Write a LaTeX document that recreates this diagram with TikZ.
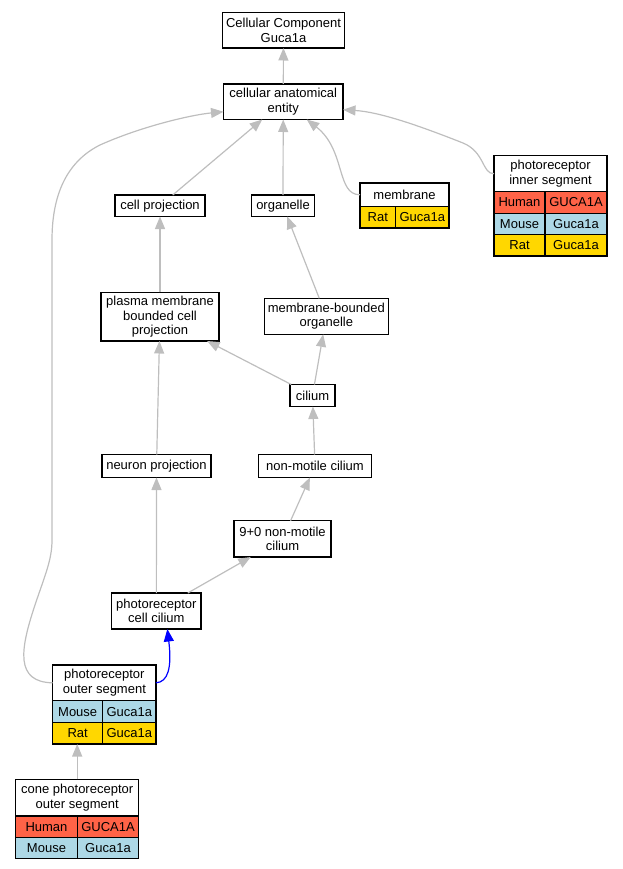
\documentclass[tikz,border=0pt]{standalone}
\usepackage{fontspec}
\setmainfont{Liberation Sans}
\usetikzlibrary{arrows.meta,calc}
\definecolor{edgegray}{RGB}{190,190,190}
\definecolor{humanred}{RGB}{255,99,71}
\definecolor{mouseblue}{RGB}{173,216,230}
\definecolor{ratgold}{RGB}{255,215,0}
\newcommand\lblfont{\fontsize{13}{14.5}\selectfont}
\begin{document}
\begin{tikzpicture}[x=1pt,y=-1pt,
  box/.style={draw=black, line width=1.2pt, fill=white, inner sep=0pt, outer sep=0pt,
    align=center, font=\lblfont, anchor=north west},
  human/.style={box, fill=humanred},
  mouse/.style={box, fill=mouseblue},
  rat/.style={box, fill=ratgold},
  edge/.style={draw=edgegray, line width=1.2pt, -{Triangle[length=12.5pt,width=10pt]}},
  bluedge/.style={draw=blue, line width=1.2pt, -{Triangle[length=12.5pt,width=10pt]}}]
\useasboundingbox (0,0) rectangle (623,869);

% plain boxes
\node[box, minimum width=122pt, minimum height=35.5pt] (cc) at (222.5,12.5) {Cellular Component\\Guca1a};
\node[box, minimum width=119.5pt, minimum height=35.5pt] (cae) at (223.5,84) {cellular anatomical\\entity};
\node[box, minimum width=90pt, minimum height=21.5pt] (cp) at (115,195) {cell projection};
\node[box, minimum width=63pt, minimum height=21.5pt] (org) at (251.5,195) {organelle};
\node[box, minimum width=118pt, minimum height=48.7pt] (pmbcp) at (101,292.3) {plasma membrane\\bounded cell\\projection};
\node[box, minimum width=124pt, minimum height=36pt] (mbo) at (264.3,298.3) {membrane-bounded\\organelle};
\node[box, minimum width=45pt, minimum height=22pt] (cil) at (290,384.5) {cilium};
\node[box, minimum width=109pt, minimum height=23pt] (np) at (102,454.5) {neuron projection};
\node[box, minimum width=113.4pt, minimum height=23pt] (nmc) at (258.3,454.5) {non-motile cilium};
\node[box, minimum width=97pt, minimum height=36.3pt] (nine) at (234,520.7) {9+0 non-motile\\cilium};
\node[box, minimum width=89.3pt, minimum height=36pt] (pcc) at (111.7,593) {photoreceptor\\cell cilium};

% membrane table
\node[box, minimum width=89pt, minimum height=23.5pt] (memh) at (360,183) {membrane};
\node[rat, minimum width=35.7pt, minimum height=21.5pt] (memr) at (360,206.5) {Rat};
\node[rat, minimum width=53.3pt, minimum height=21.5pt] (memg) at (395.7,206.5) {Guca1a};

% photoreceptor inner segment table
\node[box, minimum width=113pt, minimum height=36pt] (pish) at (494,155.7) {photoreceptor\\inner segment};
\node[human, minimum width=51pt, minimum height=21.4pt] (pishu) at (494,191.7) {Human};
\node[human, minimum width=62pt, minimum height=21.4pt] (pishug) at (545,191.7) {GUCA1A};
\node[mouse, minimum width=51pt, minimum height=21.4pt] (pismo) at (494,213.1) {Mouse};
\node[mouse, minimum width=62pt, minimum height=21.4pt] (pismog) at (545,213.1) {Guca1a};
\node[rat, minimum width=51pt, minimum height=21.4pt] (pisra) at (494,234.5) {Rat};
\node[rat, minimum width=62pt, minimum height=21.4pt] (pisrag) at (545,234.5) {Guca1a};

% photoreceptor outer segment table
\node[box, minimum width=103.3pt, minimum height=35.7pt] (posh) at (52.7,665) {photoreceptor\\outer segment};
\node[mouse, minimum width=50pt, minimum height=22pt] (posmo) at (52.7,700.7) {Mouse};
\node[mouse, minimum width=53.3pt, minimum height=22pt] (posmog) at (102.7,700.7) {Guca1a};
\node[rat, minimum width=50pt, minimum height=21.3pt] (posra) at (52.7,722.7) {Rat};
\node[rat, minimum width=53.3pt, minimum height=21.3pt] (posrag) at (102.7,722.7) {Guca1a};

% cone photoreceptor outer segment table
\node[box, minimum width=123pt, minimum height=36.7pt] (coneh) at (15.7,779.3) {cone photoreceptor\\outer segment};
\node[human, minimum width=61.6pt, minimum height=21.3pt] (conehu) at (15.7,816) {Human};
\node[human, minimum width=61.4pt, minimum height=21.3pt] (conehug) at (77.3,816) {GUCA1A};
\node[mouse, minimum width=61.6pt, minimum height=21.4pt] (conemo) at (15.7,837.3) {Mouse};
\node[mouse, minimum width=61.4pt, minimum height=21.4pt] (conemog) at (77.3,837.3) {Guca1a};

% edges
\draw[edge] (cae) -- (cc);
\draw[edge] (cp) -- (cae);
\draw[edge] (org) -- (cae);
\draw[edge] (memh.west) .. controls (336,195) and (346,150) .. ($(cae.south)+(23.5,0)$);
\draw[edge] (pish.west) .. controls (482,174) and (485,152) .. (463,143)
  .. controls (420,126) and (380,112) .. ($(cae.east)+(0,8)$);
\draw[edge] (posh.west) .. controls (15,682) and (20,650) .. (35,605)
  .. controls (45,575) and (52,560) .. (52,540) -- (52,240)
  .. controls (52,190) and (70,160) .. (100,145)
  .. controls (140,127) and (190,115) .. ($(cae.west)+(0,10)$);
\draw[edge] (pmbcp) -- (cp);
\draw[edge] (mbo) -- (org);
\draw[edge] (cil) -- (pmbcp);
\draw[edge] (cil) -- (mbo);
\draw[edge] (np) -- (pmbcp);
\draw[edge] (nmc) -- (cil);
\draw[edge] (nine) -- (nmc);
\draw[edge] (pcc) -- (np);
\draw[edge] (pcc) -- (nine);
\draw[bluedge] (posh.east) .. controls (168,682) and (172,668) .. ($(pcc.south)+(11,0)$);
\draw[edge] (coneh.north) -- (coneh.north |- posra.south);
\end{tikzpicture}
\end{document}
